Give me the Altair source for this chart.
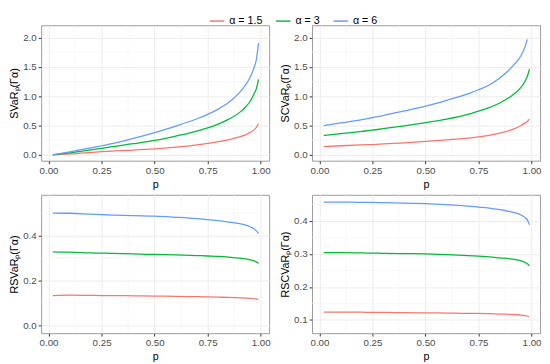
import altair as alt
import pandas as pd

# ---------------- data ----------------
p = [0.02, 0.1, 0.2, 0.25, 0.3, 0.4, 0.5, 0.6, 0.7, 0.75, 0.8, 0.85, 0.9, 0.93, 0.95, 0.97, 0.98, 0.99]
p_short = [0.02, 0.1, 0.2, 0.25, 0.3, 0.4, 0.5, 0.6, 0.7, 0.75, 0.8, 0.85, 0.9, 0.93, 0.95, 0.97, 0.98]

alpha_labels = ["α = 1.5", "α = 3", "α = 6"]
colors = ["#F8766D", "#00BA38", "#619CFF"]

svar_15 = [0.0, 0.015, 0.04, 0.053, 0.065, 0.082, 0.10, 0.13, 0.17, 0.195, 0.225, 0.26, 0.305, 0.345, 0.38, 0.43, 0.47, 0.53]
svar_3 = [0.0, 0.035, 0.085, 0.112, 0.14, 0.19, 0.245, 0.32, 0.405, 0.46, 0.525, 0.61, 0.72, 0.82, 0.91, 1.05, 1.13, 1.285]
svar_6 = [0.0, 0.05, 0.12, 0.155, 0.19, 0.28, 0.38, 0.49, 0.615, 0.69, 0.78, 0.895, 1.06, 1.20, 1.32, 1.50, 1.63, 1.91]

scvar_15 = [0.14, 0.155, 0.17, 0.176, 0.185, 0.205, 0.23, 0.255, 0.285, 0.305, 0.333, 0.37, 0.42, 0.462, 0.50, 0.545, 0.57, 0.61]
scvar_3 = [0.33, 0.36, 0.40, 0.42, 0.445, 0.495, 0.55, 0.61, 0.69, 0.745, 0.805, 0.885, 0.99, 1.075, 1.15, 1.26, 1.34, 1.46]
scvar_6 = [0.50, 0.545, 0.60, 0.635, 0.67, 0.75, 0.83, 0.93, 1.04, 1.11, 1.19, 1.31, 1.47, 1.59, 1.69, 1.85, 1.97]

rsvar_15 = [0.132, 0.134, 0.133, 0.132, 0.132, 0.131, 0.130, 0.129, 0.127, 0.126, 0.125, 0.124, 0.122, 0.121, 0.120, 0.118, 0.117, 0.114]
rsvar_3 = [0.326, 0.325, 0.322, 0.321, 0.320, 0.317, 0.315, 0.313, 0.310, 0.308, 0.306, 0.303, 0.299, 0.295, 0.291, 0.286, 0.282, 0.275]
rsvar_6 = [0.499, 0.498, 0.494, 0.492, 0.490, 0.487, 0.485, 0.480, 0.474, 0.470, 0.465, 0.459, 0.452, 0.445, 0.438, 0.428, 0.420, 0.407]

rscvar_15 = [0.124, 0.124, 0.1235, 0.123, 0.123, 0.122, 0.1215, 0.121, 0.120, 0.120, 0.119, 0.118, 0.117, 0.116, 0.115, 0.113, 0.112, 0.109]
rscvar_3 = [0.304, 0.304, 0.303, 0.3025, 0.302, 0.301, 0.300, 0.298, 0.295, 0.293, 0.291, 0.288, 0.285, 0.282, 0.279, 0.274, 0.270, 0.264]
rscvar_6 = [0.457, 0.457, 0.456, 0.456, 0.455, 0.454, 0.452, 0.449, 0.445, 0.442, 0.439, 0.434, 0.428, 0.423, 0.418, 0.410, 0.403, 0.388]

x_ticks = [0.0, 0.25, 0.5, 0.75, 1.0]
x_minor = [0.125, 0.375, 0.625, 0.875]

top_ticks = [0.0, 0.5, 1.0, 1.5, 2.0]
top_minor = [0.25, 0.75, 1.25, 1.75]
bl_ticks = [0.0, 0.2, 0.4]
bl_minor = [0.1, 0.3, 0.5]
br_ticks = [0.1, 0.2, 0.3, 0.4]
br_minor = [0.15, 0.25, 0.35, 0.45]

X_DOMAIN = [-0.035, 1.04]
W = 234


def make_df(series, ps):
    rows = []
    for lab, vals, pp in zip(alpha_labels, series, ps):
        for a, b in zip(pp, vals):
            rows.append({"p": a, "v": b, "alpha": lab})
    return pd.DataFrame(rows)


color_scale = alt.Scale(domain=alpha_labels, range=colors)
color_enc = alt.Color(
    "alpha:N",
    scale=color_scale,
    legend=alt.Legend(
        title=None, orient="none", direction="horizontal",
        legendX=172, legendY=-13,
        symbolType="stroke", symbolSize=220, symbolStrokeWidth=1.5,
        labelFontSize=11, labelColor="#000000", labelFont="Liberation Sans",
        columnPadding=10, symbolOffset=0,
    ),
)


def panel(df, title, y_domain, y_ticks, y_minor, height, fmt, show_legend=False):
    xs = alt.Scale(domain=X_DOMAIN, nice=False, zero=False)
    ys = alt.Scale(domain=y_domain, nice=False, zero=False)
    xax = alt.Axis(values=x_ticks, format=".2f", title="p")
    yax = alt.Axis(values=y_ticks, format=fmt, title=title)
    xminor = alt.Chart(pd.DataFrame({"m": x_minor})).mark_rule(
        color="#F4F4F4", strokeWidth=0.6
    ).encode(x=alt.X("m:Q", scale=xs, axis=xax, title="p"))
    yminor = alt.Chart(pd.DataFrame({"m": y_minor})).mark_rule(
        color="#F4F4F4", strokeWidth=0.6
    ).encode(y=alt.Y("m:Q", scale=ys, axis=yax, title=title))
    enc_color = color_enc if show_legend else alt.Color("alpha:N", scale=color_scale, legend=None)
    lines = alt.Chart(df).mark_line(strokeWidth=1.3, interpolate="monotone", clip=True).encode(
        x=alt.X("p:Q", scale=xs, title="p", axis=xax),
        y=alt.Y("v:Q", scale=ys, title=title, axis=yax),
        color=enc_color,
    )
    return alt.layer(xminor, yminor, lines).properties(width=W, height=height)


tl = panel(make_df([svar_15, svar_3, svar_6], [p, p, p]), "SVaRₚ(Γα)",
           [-0.1, 2.21], top_ticks, top_minor, 139, ".1f", show_legend=True)
tr = panel(make_df([scvar_15, scvar_3, scvar_6], [p, p, p_short]), "SCVaRₚ(Γα)",
           [-0.1, 2.21], top_ticks, top_minor, 139, ".1f")
bl = panel(make_df([rsvar_15, rsvar_3, rsvar_6], [p, p, p]), "RSVaRₚ(Γα)",
           [-0.035, 0.58], bl_ticks, bl_minor, 142, ".1f")
br = panel(make_df([rscvar_15, rscvar_3, rscvar_6], [p, p, p]), "RSCVaRₚ(Γα)",
           [0.06, 0.479], br_ticks, br_minor, 142, ".1f")

chart = alt.vconcat(
    alt.hconcat(tl, tr, spacing=8),
    alt.hconcat(bl, br, spacing=8),
    spacing=4,
).properties(
    padding={"left": 0, "top": 0, "right": 0, "bottom": 0},
    background="white",
).configure_view(
    stroke="#9A9A9A", strokeWidth=1
).configure_axis(
    grid=True, gridColor="#EBEBEB", gridWidth=1,
    domain=False, tickColor="#333333", tickSize=3, tickWidth=1,
    labelFont="Liberation Sans", labelFontSize=10, labelColor="#4D4D4D",
    labelPadding=2, labelOverlap=False,
    titleFont="Liberation Sans", titleFontSize=11, titleColor="#000000",
    titleFontWeight="normal", titlePadding=3,
).configure_axisX(
    labelFlush=False
).configure_axisY(
    labelFlush=False
)

chart.save("out.html", embed_options={"renderer": "svg", "actions": False})
